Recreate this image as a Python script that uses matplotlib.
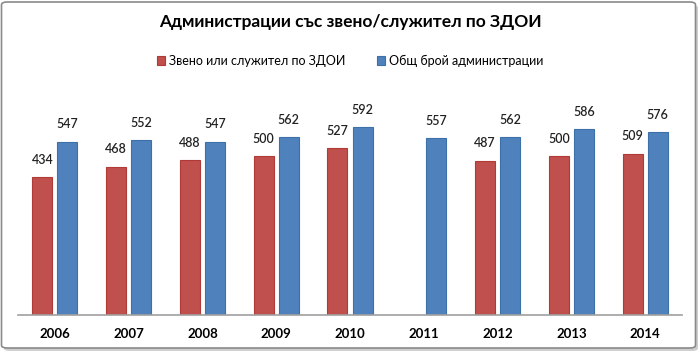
import matplotlib
matplotlib.use("Agg")
import matplotlib.pyplot as plt
from matplotlib.patches import FancyBboxPatch
import numpy as np

years = ["2006", "2007", "2008", "2009", "2010", "2011", "2012", "2013", "2014"]
unit_values = [434, 468, 488, 500, 527, None, 487, 500, 509]
total_values = [547, 552, 547, 562, 592, 557, 562, 586, 576]
series_names = ["Звено или служител по ЗДОИ", "Общ брой администрации"]
title = "Администрации със звено/служител по ЗДОИ"

plt.rcParams['font.family'] = ['Lato', 'DejaVu Sans']

fig = plt.figure(figsize=(7.0, 3.52), dpi=100)
W, H = 700, 352
ax = fig.add_axes([18 / W, 1 - 315 / H, (682 - 18) / W, (315 - 93) / H])

x = np.arange(len(years))
bw = 0.27
gap = 0.07
red, blue = "#C0504D", "#4F81BD"

ux = [xi - (bw + gap) / 2 for xi, v in zip(x, unit_values) if v is not None]
uv = [v for v in unit_values if v is not None]
b1 = ax.bar(ux, uv, width=bw, color=red, edgecolor="#B03A36", linewidth=0.8, label=series_names[0])
b2 = ax.bar(x + (bw + gap) / 2, total_values, width=bw, color=blue, edgecolor="#3D6FA8", linewidth=0.8, label=series_names[1])

for bars, vals in ((b1, uv), (b2, total_values)):
    for r, v in zip(bars, vals):
        ax.annotate(str(v), (r.get_x() + r.get_width() / 2, v), xytext=(0, 8),
                    textcoords="offset points", ha="center", va="bottom",
                    fontsize=9, fontweight="semibold", color="#222222")

ax.set_xlim(-0.5, len(years) - 0.5)
ax.set_ylim(0, 700)
ax.set_xticks(x)
ax.set_xticklabels(years, fontsize=9.5, fontweight="bold")
ax.tick_params(axis="x", length=0, pad=9)
ax.set_yticks([])
for s in ("top", "left", "right"):
    ax.spines[s].set_visible(False)
ax.spines["bottom"].set_color("#A0A0A0")
ax.spines["bottom"].set_linewidth(1.2)

fig.text(0.5, 1 - 22 / H, title, ha="center", va="center", fontsize=12.5, fontweight="bold")
fig.legend(handles=[b1, b2], labels=series_names, loc="center", bbox_to_anchor=(0.5, 1 - 61 / H),
           ncol=2, frameon=False, fontsize=9, handlelength=0.7, handleheight=0.7,
           columnspacing=2.5, handletextpad=0.3)

# frame with shadow
shadow = FancyBboxPatch((4 / W, 1 / H), (694 / W), (346 / H), boxstyle="round,pad=0,rounding_size=0.008",
                        transform=fig.transFigure, facecolor="#CFCFCF", edgecolor="none", zorder=-2)
frame = FancyBboxPatch((1.5 / W, 4 / H), (694 / W), (346 / H), boxstyle="round,pad=0,rounding_size=0.008",
                       transform=fig.transFigure, facecolor="white", edgecolor="#8A8A8A", linewidth=1.2, zorder=-1)
fig.patches.extend([shadow, frame])

fig.savefig("out.png", dpi=100)
